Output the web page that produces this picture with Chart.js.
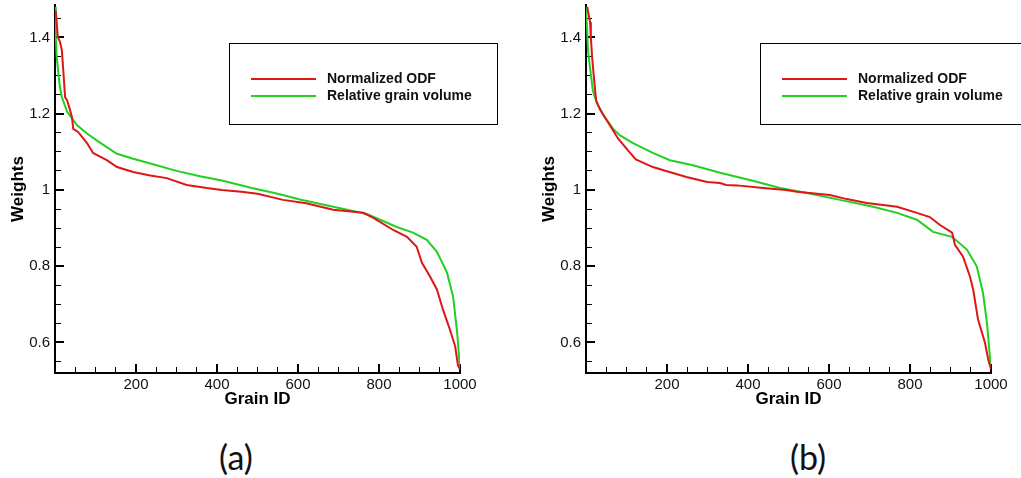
<!DOCTYPE html>
<html>
<head>
<meta charset="utf-8">
<script src="https://cdn.jsdelivr.net/npm/chart.js@4.4.1/dist/chart.umd.min.js"></script>
<style>
  html, body { margin: 0; padding: 0; background: #fff; overflow: hidden; }
  #wrap { position: relative; width: 1021px; height: 478px; overflow: hidden; }
  canvas { position: absolute; top: 0; }
  .tag { position: absolute; top: 436px; font-family: Lato, "Open Sans", sans-serif; font-size: 34px; color: #111; transform: translateX(-50%); }
</style>
</head>
<body>
<div id="wrap">
  <canvas id="chartA" width="510" height="420" style="left:0px"></canvas>
  <canvas id="chartB" width="510" height="420" style="left:531px"></canvas>
  <div class="tag" style="left:236px">(a)</div>
  <div class="tag" style="left:808px">(b)</div>
</div>
<script>
const seriesNames = ['Normalized ODF', 'Relative grain volume'];
const seriesColors = ['rgb(222,22,22)', 'rgb(34,208,34)'];

const xTickValues = [200, 400, 600, 800, 1000];
const yTickValues = [0.6, 0.8, 1, 1.2, 1.4];

// panel (a)
const odfIdsA = [2, 7, 12, 17, 20, 25, 30, 37, 42, 45, 57, 79, 94, 110, 128, 153, 193, 235, 276, 325,
  375, 412, 460, 500, 563, 620, 687, 761, 786, 835, 869, 893, 906, 926, 943, 958, 975, 988, 995, 1000];
const odfA = [1.47, 1.40, 1.39, 1.366, 1.32, 1.243, 1.235, 1.21, 1.19, 1.16, 1.152, 1.123, 1.097, 1.088, 1.078, 1.06, 1.047, 1.038, 1.031, 1.013,
  1.005, 1.0, 0.995, 0.99, 0.974, 0.965, 0.948, 0.940, 0.927, 0.895, 0.877, 0.851, 0.809, 0.773, 0.739, 0.686, 0.634, 0.59, 0.54, 0.53];
const volIdsA = [0, 2, 4, 7, 12, 17, 30, 54, 79, 111, 153, 193, 251, 300, 358, 412, 486, 550, 605, 687,
  770, 844, 884, 918, 943, 968, 983, 993, 1000];
const volA = [1.48, 1.40, 1.35, 1.32, 1.27, 1.243, 1.205, 1.17, 1.148, 1.124, 1.095, 1.082, 1.065, 1.05, 1.036, 1.025, 1.005, 0.99, 0.975, 0.956,
  0.937, 0.903, 0.888, 0.869, 0.838, 0.783, 0.72, 0.626, 0.53];

// panel (b)
const odfIdsB = [3, 10, 12, 15, 20, 25, 35, 42, 59, 79, 101, 123, 165, 206, 248, 299, 331, 346, 373, 437,
  494, 521, 602, 644, 693, 768, 817, 849, 874, 904, 911, 931, 948, 956, 968, 985, 993, 1000];
const odfB = [1.48, 1.44, 1.40, 1.35, 1.29, 1.235, 1.21, 1.198, 1.17, 1.135, 1.107, 1.08, 1.06, 1.047, 1.034, 1.021, 1.018, 1.013, 1.012, 1.005,
  1.0, 0.995, 0.987, 0.976, 0.966, 0.956, 0.94, 0.929, 0.908, 0.888, 0.856, 0.825, 0.773, 0.739, 0.66, 0.6, 0.556, 0.53];
const volIdsB = [0, 5, 10, 17, 27, 47, 67, 84, 116, 165, 207, 264, 331, 412, 479, 546, 627, 709, 768, 817,
  857, 904, 941, 965, 980, 990, 1000];
const volB = [1.48, 1.366, 1.32, 1.26, 1.227, 1.19, 1.16, 1.143, 1.123, 1.097, 1.078, 1.065, 1.045, 1.024, 1.005, 0.992, 0.974, 0.956, 0.94, 0.922,
  0.89, 0.877, 0.843, 0.799, 0.731, 0.652, 0.53];

const xMin = 0, xMax = 1000;
const yMin = 0.52, yMax = 1.485;

Chart.defaults.font.family = '"Liberation Sans", Arial, sans-serif';

const tickFont = { size: 15 };
const titleFont = { size: 17, weight: 'bold' };

// legend box drawn inside the plot, like the original
const legendBox = {
  id: 'legendBox',
  afterDraw(chart) {
    const ctx = chart.ctx;
    const a = chart.chartArea;
    const x = a.left + 174, y = a.top + 38, w = 268, h = 81;
    ctx.save();
    ctx.strokeStyle = '#000';
    ctx.lineWidth = 1;
    ctx.strokeRect(x + 0.5, y + 0.5, w, h);
    ctx.font = 'bold 14px "Liberation Sans", Arial, sans-serif';
    ctx.textBaseline = 'middle';
    chart.data.datasets.forEach((ds, i) => {
      const ly = y + 36 + i * 17;
      ctx.strokeStyle = ds.borderColor;
      ctx.lineWidth = 2;
      ctx.beginPath();
      ctx.moveTo(x + 22, ly);
      ctx.lineTo(x + 87, ly);
      ctx.stroke();
      ctx.fillStyle = '#111';
      ctx.fillText(ds.label, x + 98, ly);
    });
    ctx.restore();
  }
};

function toPoints(xs, ys) {
  return xs.map((x, i) => ({ x: x, y: ys[i] }));
}

// plain numbers: 1 not 1.0, 1000 not 1,000
const plain = v => String(Math.round(v * 1000) / 1000);

function makeChart(id, odfIds, odf, volIds, vol) {
  return new Chart(document.getElementById(id), {
    type: 'line',
    data: {
      datasets: [
        { label: seriesNames[0], data: toPoints(odfIds, odf), borderColor: seriesColors[0],
          borderWidth: 2, pointRadius: 0, tension: 0, xAxisID: 'x', yAxisID: 'y' },
        { label: seriesNames[1], data: toPoints(volIds, vol), borderColor: seriesColors[1],
          borderWidth: 2, pointRadius: 0, tension: 0, xAxisID: 'x', yAxisID: 'y' }
      ]
    },
    options: {
      responsive: false,
      animation: false,
      layout: { padding: { top: 5, right: 50, bottom: 0, left: 0 } },
      plugins: { legend: { display: false }, tooltip: { enabled: false } },
      scales: {
        x: {
          type: 'linear', position: 'bottom', weight: 1, min: xMin, max: xMax,
          afterBuildTicks: s => { s.ticks = xTickValues.map(v => ({ value: v })); },
          afterFit: s => { s.height = 47; s.paddingLeft = 0; s.paddingRight = 0; },
          ticks: { font: tickFont, color: '#111', padding: 12, maxRotation: 0, autoSkip: false, callback: plain },
          grid: { drawOnChartArea: false, tickLength: -9, lineWidth: 2, color: '#000' },
          border: { color: '#000', width: 2 },
          title: { display: true, text: 'Grain ID', font: titleFont, color: '#000', padding: { top: 0, bottom: 10 } }
        },
        xMinor: {
          type: 'linear', position: 'bottom', weight: 0, min: xMin, max: xMax,
          afterFit: s => { s.height = 0; s.paddingLeft = 0; s.paddingRight = 0; },
          ticks: { display: false, stepSize: 50, includeBounds: false },
          grid: { drawOnChartArea: false, tickLength: -6, lineWidth: 1, color: '#000' },
          border: { display: false }
        },
        y: {
          type: 'linear', position: 'left', weight: 1, min: yMin, max: yMax,
          afterBuildTicks: s => { s.ticks = yTickValues.map(v => ({ value: v })); },
          afterFit: s => { s.width = 55; s.paddingTop = 0; s.paddingBottom = 0; },
          ticks: { font: tickFont, color: '#111', padding: 14, callback: plain },
          grid: { drawOnChartArea: false, tickLength: -9, lineWidth: 2, color: '#000' },
          border: { color: '#000', width: 2 },
          title: { display: true, text: 'Weights', font: titleFont, color: '#000', padding: { top: 8, bottom: 0 } }
        },
        yMinor: {
          type: 'linear', position: 'left', weight: 0, min: yMin, max: yMax,
          afterFit: s => { s.width = 0; s.paddingTop = 0; s.paddingBottom = 0; },
          ticks: { display: false, stepSize: 0.05, includeBounds: false },
          grid: { drawOnChartArea: false, tickLength: -6, lineWidth: 1, color: '#000' },
          border: { display: false }
        }
      }
    },
    plugins: [legendBox]
  });
}

makeChart('chartA', odfIdsA, odfA, volIdsA, volA);
makeChart('chartB', odfIdsB, odfB, volIdsB, volB);
</script>
</body>
</html>
